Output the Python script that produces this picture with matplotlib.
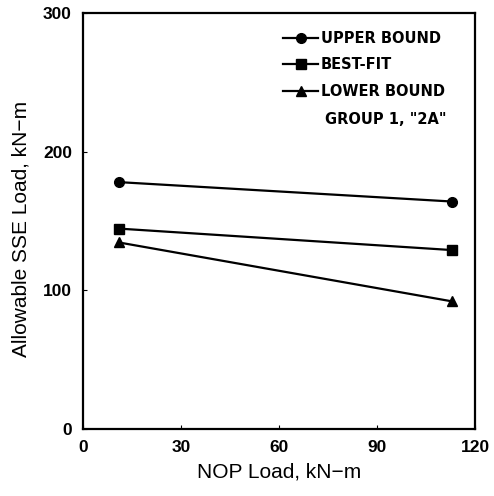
import matplotlib
matplotlib.use("Agg")
import matplotlib.pyplot as plt

nop_load = [11, 113]
upper_bound = [178, 164]
best_fit = [144.5, 129]
lower_bound = [134.5, 92]

x_ticks = [0, 30, 60, 90, 120]
y_ticks = [0, 100, 200, 300]

plt.rcParams['font.family'] = ['Liberation Sans', 'DejaVu Sans']

fig = plt.figure(figsize=(4.94, 4.96), dpi=100)
ax = fig.add_axes([0.168, 0.135, 0.794, 0.839])

ax.plot(nop_load, upper_bound, color='black', lw=1.6, marker='o', ms=7, label='UPPER BOUND')
ax.plot(nop_load, best_fit, color='black', lw=1.6, marker='s', ms=7, label='BEST-FIT')
ax.plot(nop_load, lower_bound, color='black', lw=1.6, marker='^', ms=7, label='LOWER BOUND')

ax.set_xlim(0, 120)
ax.set_ylim(0, 300)
ax.set_xticks(x_ticks)
ax.set_yticks(y_ticks)
ax.tick_params(direction='in', length=3, labelsize=12.5, pad=8)
for lab in ax.get_xticklabels() + ax.get_yticklabels():
    lab.set_fontweight('bold')
for s in ax.spines.values():
    s.set_linewidth(1.6)

ax.set_xlabel('NOP Load, kN\u2212m', fontsize=15, labelpad=5)
ax.set_ylabel('Allowable SSE Load, kN\u2212m', fontsize=15)
ax.yaxis.set_label_coords(-0.135, 0.482)

leg_font = {'family': 'DejaVu Sans', 'size': 10.5, 'weight': 'bold'}
leg = ax.legend(loc='upper left', frameon=False, prop=leg_font,
                handlelength=2.4, handletextpad=0.2, labelspacing=0.8,
                borderpad=0, borderaxespad=0, bbox_to_anchor=(0.51, 0.957))
ax.text(0.617, 0.745, 'GROUP 1, "2A"', transform=ax.transAxes, fontdict=leg_font,
        va='center')

fig.savefig('out.png', dpi=100)
